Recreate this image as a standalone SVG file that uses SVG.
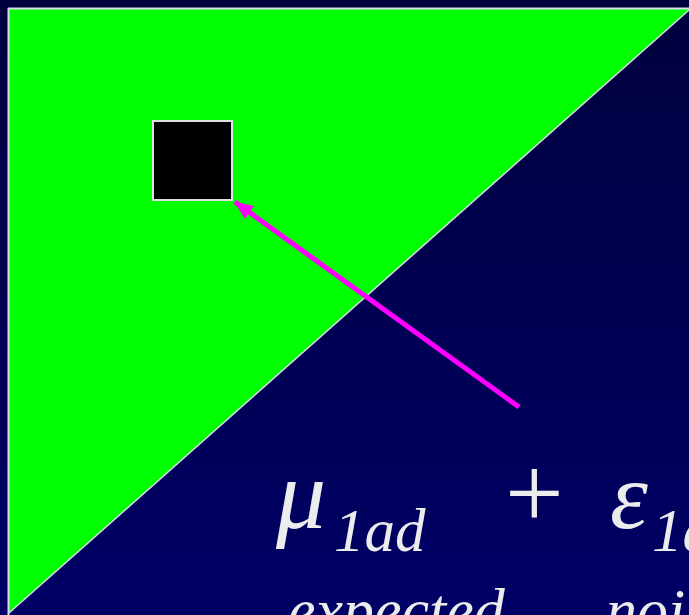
<svg xmlns="http://www.w3.org/2000/svg" width="689" height="615" viewBox="0 0 689 615">
<defs>
<linearGradient id="bg" x1="0" y1="0" x2="0" y2="1">
<stop offset="0" stop-color="#00003e"/>
<stop offset="1" stop-color="#000066"/>
</linearGradient>
<marker id="ah" markerWidth="20" markerHeight="16" refX="18" refY="8" orient="auto" markerUnits="userSpaceOnUse">
<path d="M0,0 L19,8 L0,16 z" fill="#ff00ff"/>
</marker>
<style>
.math{font-family:"Liberation Serif","Times New Roman",serif;font-style:italic;fill:#ececec}
.op{font-family:"Liberation Serif","Times New Roman",serif;fill:#ececec}
</style>
</defs>
<rect x="0" y="0" width="689" height="615" fill="url(#bg)"/>
<g id="region">
<polygon points="9,9 689,9 689,10 9,613" fill="#00ff00"/>
<line x1="9" y1="613" x2="689" y2="10" stroke="#dcdce8" stroke-width="1.5"/>
<line x1="8" y1="8.5" x2="689" y2="8.5" stroke="#dcdce8" stroke-width="2"/>
<line x1="8.5" y1="8" x2="8.5" y2="615" stroke="#dcdce8" stroke-width="2"/>
</g>
<g id="cell">
<rect x="153" y="121" width="79" height="79" fill="#000000" stroke="#e0e0e0" stroke-width="2"/>
</g>
<g id="connectors">
<line x1="519" y1="407" x2="235" y2="202" stroke="#ff00ff" stroke-width="5" marker-end="url(#ah)"/>
</g>
<g id="formula">
<text class="math" x="276" y="528" font-size="100">μ</text>
<text class="math" x="334" y="551" font-size="61">1ad</text>
<text class="op" x="505" y="528" font-size="104">+</text>
<text class="math" x="610" y="528" font-size="96">ε</text>
<text class="math" x="652" y="551" font-size="61">1ad</text>
<text class="math" x="288" y="631" font-size="62">expected</text>
<text class="math" x="606" y="631" font-size="62">noise</text>
</g>
</svg>
